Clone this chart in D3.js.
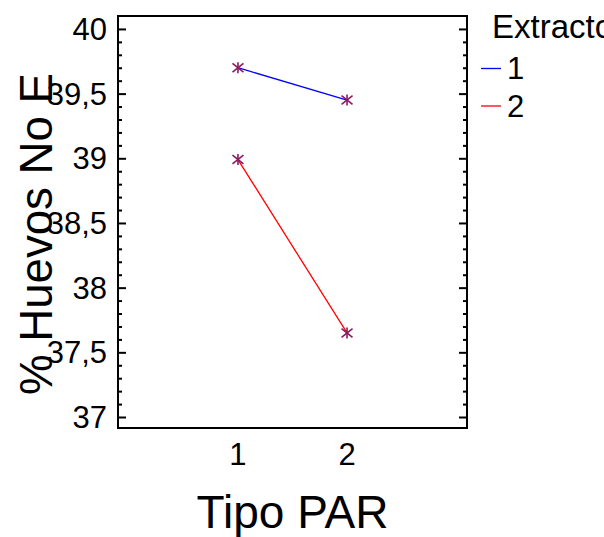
<!DOCTYPE html>
<html><head><meta charset="utf-8">
<script src="https://cdn.jsdelivr.net/npm/d3@7"></script>
<style>html,body{margin:0;padding:0;background:#fff;overflow:hidden}svg{display:block}</style>
</head><body>
<script>
const categories = [1, 2];
const seriesNames = ["1", "2"];
const seriesColors = ["#0000ff", "#ff0000"];
const series1 = [39.70, 39.45];
const series2 = [38.99, 37.65];
const yTicks = [37, 37.5, 38, 38.5, 39, 39.5, 40];
const yTickLabels = ["37", "37,5", "38", "38,5", "39", "39,5", "40"];
const xTickLabels = ["1", "2"];
const xTitle = "Tipo PAR";
const yTitle = "% Huevos No E";
const legendTitle = "Extracto";

const W = 604, H = 537;
const L = 118, R = 467, T = 16, B = 428;
const font = "'Liberation Sans', Arial, sans-serif";

const svg = d3.select("body").append("svg").attr("width", W).attr("height", H)
  .style("font-family", font);

const x = d3.scaleLinear().domain([-0.1, 3.1]).range([L, R]);
const y = d3.scaleLinear().domain([36.915, 40.1]).range([B, T]);

// ticks left & right (inward)
const minor = d3.range(37, 40.05, 0.1).map(v => Math.round(v * 10) / 10);
const isMajor = d => Math.abs(d * 2 - Math.round(d * 2)) < 1e-6;
const axL = d3.axisRight(y).tickValues(minor).tickSize(0).tickFormat("");
const gL = svg.append("g").attr("transform", `translate(${L},0)`).call(axL);
gL.select(".domain").remove();
gL.selectAll(".tick line")
  .attr("x2", d => (isMajor(d) ? 8 : 4))
  .attr("stroke", "#000").attr("stroke-width", 2);
const axR = d3.axisLeft(y).tickValues(minor).tickSize(0).tickFormat("");
const gR = svg.append("g").attr("transform", `translate(${R},0)`).call(axR);
gR.select(".domain").remove();
gR.selectAll(".tick line")
  .attr("x2", d => (isMajor(d) ? -8 : -4))
  .attr("stroke", "#000").attr("stroke-width", 2);

// y tick labels
svg.append("g").selectAll("text").data(yTicks).join("text")
  .attr("x", L - 11).attr("y", d => y(d) + 11)
  .attr("text-anchor", "end").attr("font-size", 31).attr("fill", "#000")
  .text((d, i) => yTickLabels[i]);

// x tick labels
svg.append("g").selectAll("text").data(categories).join("text")
  .attr("x", d => x(d)).attr("y", 465)
  .attr("text-anchor", "middle").attr("font-size", 31).attr("fill", "#000")
  .text((d, i) => xTickLabels[i]);

// frame
svg.append("rect").attr("x", L).attr("y", T).attr("width", R - L).attr("height", B - T)
  .attr("fill", "none").attr("stroke", "#000").attr("stroke-width", 2);

// lines
const data = [series1, series2];
const line = d3.line().x((d, i) => x(categories[i])).y(d => y(d));
data.forEach((s, k) => {
  svg.append("path").datum(s).attr("d", line)
    .attr("fill", "none").attr("stroke", seriesColors[k]).attr("stroke-width", 1.3);
});

// markers (asterisks)
const mk = "#8b1a5e";
data.forEach((s, k) => {
  s.forEach((v, i) => {
    const cx = x(categories[i]), cy = y(v), r = 5.5;
    const g = svg.append("g").attr("stroke", mk).attr("stroke-width", 1.6);
    g.append("line").attr("x1", cx).attr("y1", cy - r).attr("x2", cx).attr("y2", cy + r);
    g.append("line").attr("x1", cx - r).attr("y1", cy - r * 0.8).attr("x2", cx + r).attr("y2", cy + r * 0.8);
    g.append("line").attr("x1", cx - r).attr("y1", cy + r * 0.8).attr("x2", cx + r).attr("y2", cy - r * 0.8);
  });
});

// axis titles
svg.append("text").attr("x", (L + R) / 2).attr("y", 528)
  .attr("text-anchor", "middle").attr("font-size", 46)
  .attr("textLength", 192).attr("lengthAdjust", "spacingAndGlyphs")
  .text(xTitle);
svg.append("text").attr("transform", "translate(52,234) rotate(-90)")
  .attr("text-anchor", "middle").attr("font-size", 47)
  .attr("textLength", 322).attr("lengthAdjust", "spacingAndGlyphs")
  .text(yTitle);

// legend
svg.append("text").attr("x", 492).attr("y", 38).attr("font-size", 33).text(legendTitle);
const lg = [68.5, 106];
seriesNames.forEach((n, k) => {
  svg.append("line").attr("x1", 481).attr("x2", 501).attr("y1", lg[k]).attr("y2", lg[k])
    .attr("stroke", seriesColors[k]).attr("stroke-width", 1.3);
  svg.append("text").attr("x", 507).attr("y", lg[k] + 10.5).attr("font-size", 31).text(n);
});
</script>
</body></html>
